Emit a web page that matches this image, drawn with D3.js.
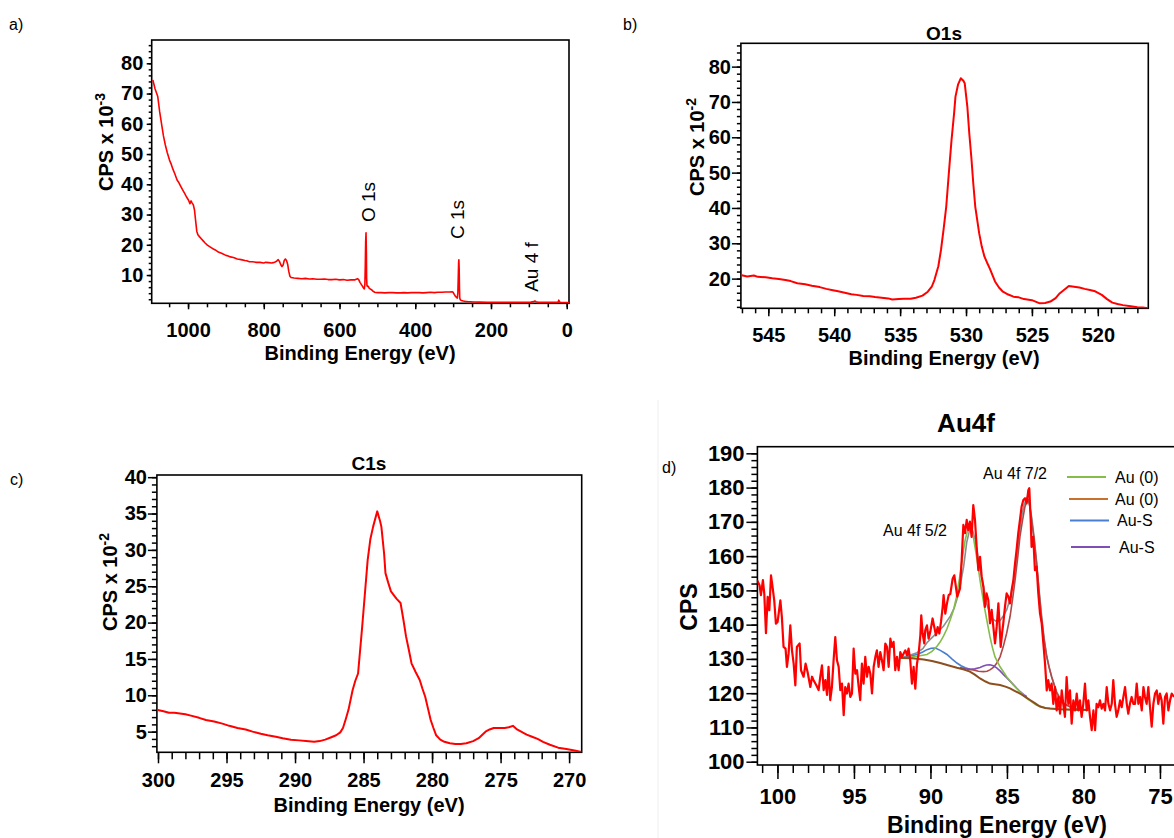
<!DOCTYPE html>
<html>
<head>
<meta charset="utf-8">
<script src="https://cdn.jsdelivr.net/npm/d3@7"></script>
<style>
  body { margin: 0; background: #fff; }
  text { font-family: "Liberation Sans", Arial, sans-serif; fill: #000; }
</style>
</head>
<body>
<div id="chart"></div>
<script>
// a) survey [eV, CPS x 1e-3]
const surveyData = [
  [1093,74.5],[1087,71.5],[1080,69],[1075,64],[1070,60],[1065,56],[1060,53],[1055,50.5],[1049,48],[1044,46.5],
  [1040,45],[1035,43.5],[1029,41.4],[1024,40.5],[1020,39.5],[1015,38.3],[1009,37],[1004,35.8],[999,34.8],[995,33.6],
  [992,34.5],[989,33.8],[986,33.2],[983,31.5],[980,28],[977,24.5],[974,23.3],[970,22.7],[965,22],[960,21.3],
  [955,20.6],[949,19.9],[943,19.4],[938,19],[933,18.6],[928,18.3],[920,17.6],[910,17.1],[900,16.5],[894,16.3],
  [888,16],[880,15.8],[870,15.3],[860,15.1],[850,14.8],[845,14.7],[838,14.4],[830,14.4],[820,14.2],[810,14.2],
  [800,14.0],[795,14.2],[787,14.1],[780,14.0],[775,14.1],[770,14.3],[766,14.6],[762,15.1],[759,14.6],[755,13.4],
  [752,12.8],[749,13.3],[746,14.8],[743,15.3],[740,14.8],[737,13.6],[734,11.2],[731,9.6],[728,9.2],[720,9.0],
  [710,8.9],[700,8.8],[690,8.9],[680,8.7],[670,8.8],[660,8.6],[650,8.6],[640,8.7],[630,8.5],[620,8.5],
  [610,8.6],[600,8.4],[590,8.5],[580,8.3],[570,8.4],[560,8.4],[556,8.6],[552,8.8],[549,8.4],[546,7.6],
  [543,7.0],[540,6.4],[537,5.8],[534.5,5.4],[533,7],[532,13],[531,21],[530,24],[529,17],[528.5,9],
  [527.5,6.5],[526,6.2],[524,6.3],[522,5.7],[519,5.4],[515,5.1],[511,4.6],[507,4.3],[500,4.2],[490,4.2],
  [480,4.1],[470,4.2],[460,4.2],[450,4.1],[440,4.1],[430,4.2],[420,4.1],[410,4.2],[400,4.2],[390,4.2],
  [380,4.1],[370,4.2],[360,4.3],[350,4.2],[340,4.3],[330,4.3],[320,4.4],[310,4.4],[303,4.5],[300,4.3],
  [297,3.6],[294,3.0],[291,2.6],[289,2.4],[287.5,4],[286.5,9],[285.5,14],[284.8,15],[284,12],[283.3,6],
  [282.5,2.4],[281,1.8],[278,1.6],[273,1.4],[268,1.3],[262,1.2],[255,1.15],[245,1.1],[230,1.05],[210,1.0],
  [190,1.0],[170,1.0],[150,1.0],[130,1.0],[110,1.0],[95,1.05],[87,1.2],[84,1.4],[81,1.2],[75,1.0],
  [60,1.0],[45,0.95],[30,0.95],[23,1.0],[21,1.7],[19,1.1],[15,0.9],[8,0.9],[0,0.9],[-6,0.85]
];

// b) O1s [eV, CPS x 1e-2]
const o1sData = [
  [547.1,21.0],[546.6,20.6],[546.1,20.9],[545.8,20.5],[545.2,20.4],[544.7,20.1],[544.2,19.9],[543.7,19.6],[543.3,19.3],[542.8,18.7],
  [542.2,18.4],[541.7,18.0],[541.1,17.6],[540.6,17.1],[540.1,16.7],[539.7,16.4],[539.2,16.0],[538.7,15.6],[538.3,15.4],[537.8,15.1],
  [537.3,15.0],[536.9,14.8],[536.4,14.6],[535.9,14.4],[535.6,14.1],[535.1,14.2],[534.7,14.3],[534.2,14.3],[533.8,14.6],[533.3,15.2],
  [532.9,16.3],[532.6,17.7],[532.4,19.6],[532.1,23.5],[531.9,28.1],[531.7,34.0],[531.5,40.4],[531.3,50.0],[531.1,59.2],[530.9,67.0],
  [530.8,71.5],[530.6,75.0],[530.4,76.7],[530.2,76.0],[530.1,75.3],[529.9,68.7],[529.75,61.0],[529.6,54.5],[529.45,47.0],[529.3,40.4],
  [529.0,32.8],[528.8,29.0],[528.6,26.2],[528.4,24.5],[528.2,22.9],[527.8,19.2],[527.5,17.5],[527.2,16.3],[526.8,15.5],[526.4,14.9],
  [526.0,14.7],[525.6,14.2],[525.0,13.9],[524.4,13.0],[524.0,13.1],[523.6,13.5],[523.2,14.5],[522.9,15.8],[522.5,17.0],[522.2,17.9],
  [521.8,17.7],[521.4,17.5],[521.0,17.1],[520.6,16.8],[520.2,16.4],[519.7,15.4],[519.3,14.2],[518.9,13.2],[518.5,12.8],[518.1,12.5],
  [517.5,12.2],[517.0,11.9],[516.6,11.8],[516.2,11.6]
];

// c) C1s [eV, CPS x 1e-2]
const c1sData = [
  [300.1,8.0],[299.6,7.8],[299.2,7.6],[298.8,7.6],[298.4,7.5],[298.0,7.4],[297.6,7.2],[297.0,6.9],[296.5,6.6],[295.9,6.4],
  [295.3,6.1],[294.8,5.8],[294.2,5.5],[293.6,5.3],[293.1,5.0],[292.5,4.7],[292.0,4.5],[291.4,4.3],[290.9,4.1],[290.3,3.9],
  [289.7,3.8],[289.2,3.7],[288.6,3.6],[288.2,3.7],[287.8,3.9],[287.4,4.2],[287.0,4.5],[286.7,4.9],[286.5,5.5],[286.3,6.7],
  [286.1,8.0],[285.8,10.7],[285.6,12.0],[285.4,13.0],[285.1,19.4],[284.9,24.0],[284.7,28.6],[284.5,31.5],[284.3,33.2],[284.0,35.3],
  [283.8,34.0],[283.7,33.2],[283.5,29.5],[283.4,26.8],[283.2,25.5],[283.0,24.3],[282.6,23.3],[282.3,22.7],[282.1,20.5],[281.9,18.1],
  [281.7,16.3],[281.5,14.4],[281.2,13.2],[280.9,12.1],[280.7,10.9],[280.5,9.8],[280.3,8.2],[280.1,6.6],[279.9,5.5],[279.7,4.5],
  [279.4,3.9],[279.1,3.6],[278.7,3.4],[278.3,3.3],[277.9,3.3],[277.5,3.4],[277.0,3.7],[276.6,4.1],[276.1,5.0],[275.8,5.3],
  [275.5,5.5],[275.1,5.5],[274.7,5.5],[274.4,5.6],[274.1,5.8],[273.8,5.3],[273.5,5.0],[273.1,4.6],[272.7,4.3],[272.3,4.0],
  [271.9,3.6],[271.4,3.2],[270.8,2.8],[270.2,2.6],[269.6,2.4],[269.1,2.2]
];

// d) Au4f raw counts [eV, CPS]
const au4fData = [
  [101.34,153.0],[101.17,151.5],[101.08,148.6],[100.95,153.0],[100.86,149.0],[100.75,137.5],[100.64,148.1],[100.53,144.2],[100.42,154.4],[100.32,151.0],
  [100.21,147.1],[100.10,140.3],[99.99,140.8],[99.81,147.1],[99.71,142.2],[99.60,133.5],[99.47,133.0],[99.38,127.7],[99.27,131.6],[99.16,139.8],
  [99.05,132.5],[98.94,128.6],[98.83,122.3],[98.73,133.5],[98.55,134.5],[98.46,126.7],[98.29,124.8],[98.16,128.6],[98.03,126.2],[97.85,121.8],
  [97.74,124.8],[97.64,123.8],[97.46,122.3],[97.31,120.9],[97.20,124.8],[97.09,128.1],[96.98,120.9],[96.87,123.8],[96.76,119.5],[96.66,127.7],
  [96.55,118.0],[96.44,121.8],[96.33,129.6],[96.22,136.4],[96.11,129.6],[96.00,127.7],[95.89,120.9],[95.78,122.8],[95.67,113.6],[95.57,121.8],
  [95.46,119.9],[95.35,122.8],[95.24,118.9],[95.13,119.9],[95.02,133.0],[94.91,125.7],[94.80,126.7],[94.69,121.8],[94.59,118.0],[94.48,128.6],
  [94.37,122.8],[94.26,130.6],[94.15,124.8],[94.04,127.7],[93.93,125.7],[93.82,119.9],[93.71,127.7],[93.60,130.6],[93.50,132.5],[93.39,127.7],
  [93.28,132.0],[93.17,129.6],[93.06,126.7],[92.95,134.5],[92.84,133.5],[92.73,127.7],[92.62,135.9],[92.52,133.5],[92.41,135.0],[92.30,126.7],
  [92.19,130.6],[92.08,126.7],[91.97,132.0],[91.86,130.6],[91.75,131.6],[91.64,132.5],[91.53,131.0],[91.43,133.0],[91.32,129.6],[91.21,122.8],
  [91.10,127.7],[90.99,121.3],[90.88,128.6],[90.77,131.6],[90.66,136.9],[90.60,142.7],[90.51,137.4],[90.40,134.5],[90.34,138.4],[90.23,139.8],
  [90.12,135.9],[90.01,137.9],[89.86,141.8],[89.75,139.3],[89.64,136.9],[89.53,139.3],[89.42,137.4],[89.31,140.8],[89.20,145.2],[89.14,148.6],
  [89.03,143.2],[88.92,146.2],[88.81,148.6],[88.70,149.0],[88.55,153.4],[88.44,154.4],[88.25,148.2],[88.07,150.5],[87.96,158.8],[87.85,169.1],
  [87.74,166.7],[87.63,170.6],[87.53,167.6],[87.42,170.1],[87.31,165.6],[87.20,174.9],[87.09,170.6],[86.98,162.7],[86.87,155.9],[86.76,159.8],
  [86.65,154.0],[86.54,151.0],[86.44,145.2],[86.33,149.1],[86.22,147.2],[86.11,140.4],[86.00,144.3],[85.89,139.4],[85.78,134.5],[85.67,139.4],
  [85.56,146.2],[85.50,141.3],[85.41,133.5],[85.32,137.4],[85.24,140.4],[85.13,145.2],[85.02,149.1],[84.91,148.2],[84.80,146.2],[84.69,150.1],
  [84.58,153.0],[84.47,157.9],[84.37,161.8],[84.26,166.7],[84.15,170.6],[84.04,174.5],[83.93,176.4],[83.82,176.9],[83.71,175.4],[83.60,179.3],
  [83.54,179.8],[83.45,170.6],[83.39,162.7],[83.28,165.6],[83.17,155.9],[83.06,156.9],[82.95,149.1],[82.84,143.3],[82.73,140.4],[82.62,134.5],
  [82.51,128.6],[82.40,120.8],[82.30,123.8],[82.19,120.8],[82.08,122.8],[81.97,116.9],[81.86,121.8],[81.75,115.0],[81.64,118.9],[81.53,114.0],
  [81.42,120.8],[81.32,116.9],[81.21,113.1],[81.10,124.7],[80.99,116.9],[80.88,120.8],[80.77,111.1],[80.66,117.9],[80.55,115.0],[80.44,119.9],
  [80.33,115.0],[80.23,117.9],[80.12,113.1],[80.01,116.9],[79.90,122.8],[79.79,115.0],[79.68,117.9],[79.57,113.1],[79.46,109.2],[79.35,115.0],
  [79.24,109.2],[79.14,116.9],[79.03,115.9],[78.92,117.9],[78.81,115.5],[78.70,116.9],[78.59,115.0],[78.48,121.8],[78.37,116.9],[78.26,115.0],
  [78.15,116.9],[78.05,123.8],[77.94,116.9],[77.83,113.1],[77.72,115.0],[77.61,117.9],[77.50,115.9],[77.39,118.9],[77.28,121.8],[77.17,116.9],
  [77.07,114.0],[76.96,116.9],[76.85,118.9],[76.74,116.9],[76.63,116.9],[76.52,122.8],[76.41,116.9],[76.30,118.9],[76.19,115.0],[76.08,121.8],
  [75.98,118.9],[75.87,116.9],[75.76,121.8],[75.65,115.9],[75.54,110.2],[75.43,116.9],[75.32,119.9],[75.21,120.8],[75.11,116.9],[75.00,119.9],
  [74.89,117.9],[74.78,111.1],[74.67,118.9],[74.56,119.9],[74.45,115.0],[74.34,117.9],[74.23,119.9],[74.08,118.9]
];

// d) fitted components [eV, CPS]
const fitBackground = [
  [91.97,130.3],[91.2,130.2],[90.44,129.8],[89.9,129.4],[89.36,128.8],[88.8,128.1],[88.27,127.4],[87.8,126.9],[87.42,126.3],[87.1,125.4],
  [86.76,124.3],[86.4,123.4],[86.11,122.8],[85.8,122.6],[85.45,122.4],[85.1,121.9],[84.80,121.4],[84.5,120.7],[84.15,119.9],[83.8,118.9],
  [83.49,118.0],[83.15,117.0],[82.84,116.1],[82.5,115.7],[82.19,115.5],[81.53,115.3],[80.6,115.2],[79.68,115.1]
];
const fitAu52 = [
  [91.97,130.3],[91.4,130.5],[90.88,130.8],[90.23,131.3],[89.9,132.2],[89.57,133.7],[89.36,135.0],[89.14,136.7],[88.92,138.8],[88.70,141.5],
  [88.5,144.2],[88.3,148.0],[88.1,153.5],[87.9,160.0],[87.74,164.5],[87.6,167.0],[87.42,168.6],[87.25,167.0],[87.09,162.7],[86.92,158.0],
  [86.76,153.0],[86.6,148.5],[86.44,144.3],[86.27,140.2],[86.11,136.5],[85.95,133.3],[85.78,130.6],[85.6,129.0],[85.45,127.7],[85.02,124.8],
  [84.58,122.4],[84.15,120.4],[83.71,118.5],[83.06,116.5],[82.40,115.6],[81.53,115.3],[80.6,115.2],[79.68,115.1]
];
const fitAuS52 = [
  [91.97,130.3],[91.4,130.7],[90.88,131.3],[90.5,132.0],[90.23,132.7],[89.95,133.1],[89.68,133.2],[89.36,132.5],[89.1,131.8],[88.92,131.3],
  [88.6,130.0],[88.27,128.8],[88.0,128.0],[87.72,127.4],[87.4,127.0]
];
const fitAuS72 = [
  [88.07,127.5],[87.75,127.2],[87.42,127.0],[87.1,127.1],[86.76,127.5],[86.54,127.9],[86.33,128.2],[86.11,128.3],[85.89,128.0],[85.67,127.4],
  [85.45,126.5],[85.24,125.5],[85.02,124.5],[84.80,123.5],[84.58,122.5],[84.37,121.5],[84.15,120.5],[83.9,119.6],[83.7,119.0]
];
const fitAu72 = [
  [87.6,127.0],[87.2,126.8],[86.87,126.4],[86.54,126.3],[86.3,126.4],[86.11,126.8],[85.89,127.5],[85.67,128.7],[85.45,130.6],[85.24,133.6],
  [85.02,137.5],[84.80,142.3],[84.63,147.5],[84.47,153.0],[84.3,159.5],[84.15,165.7],[83.98,170.5],[83.82,174.5],[83.71,175.8],[83.60,176.4],
  [83.5,174.5],[83.39,170.6],[83.22,164.5],[83.06,158.0],[82.9,149.5],[82.73,141.4],[82.57,135.5],[82.40,130.7],[82.24,127.5],[82.08,124.8],
  [81.9,122.2],[81.75,120.0],[81.5,118.2],[81.32,117.1],[80.95,116.2],[80.66,115.6],[80.2,115.3],[79.68,115.1]
];
const fitEnvelope = [
  [91.97,130.3],[91.4,131.0],[90.88,131.8],[90.5,133.0],[90.23,134.7],[89.9,136.2],[89.57,137.6],[89.14,139.6],[88.70,142.5],[88.45,144.8],
  [88.27,147.4],[88.05,151.5],[87.83,157.0],[87.63,164.0],[87.42,168.0],[87.25,167.5],[87.09,165.0],[86.92,160.5],[86.76,156.0],[86.54,151.5],
  [86.33,146.2],[86.11,143.0],[85.89,141.5],[85.67,140.9],[85.45,141.2],[85.24,142.5],[85.02,144.3],[84.80,147.5],[84.58,152.5],[84.37,160.0],
  [84.2,166.5],[84.04,171.5],[83.88,175.0],[83.71,176.9],[83.55,175.5],[83.39,171.5],[83.22,165.5],[83.06,158.0],[82.9,150.0],[82.73,142.4],
  [82.57,136.0],[82.40,130.7],[82.24,127.5],[82.08,124.8],[81.9,122.4],[81.75,120.4],[81.5,118.4],[81.32,117.1],[80.95,116.2],[80.66,115.6],
  [80.2,115.3],[79.68,115.1]
];

// ticks
const surveyXTicks = [0, 200, 400, 600, 800, 1000];
const surveyYTicks = [10, 20, 30, 40, 50, 60, 70, 80];
const o1sXTicks = [520, 525, 530, 535, 540, 545];
const o1sYTicks = [20, 30, 40, 50, 60, 70, 80];
const c1sXTicks = [270, 275, 280, 285, 290, 295, 300];
const c1sYTicks = [5, 10, 15, 20, 25, 30, 35, 40];
const au4fXTicks = [75, 80, 85, 90, 95, 100];
const au4fYTicks = [100, 110, 120, 130, 140, 150, 160, 170, 180, 190];

const legendLabels = ['Au (0)', 'Au (0)', 'Au-S', 'Au-S'];
const legendColors = ['#86bc4a', '#c8702f', '#4a7fd0', '#7e4fb5'];

const svg = d3.select('#chart')
  .append('svg')
  .attr('width', 1174)
  .attr('height', 838);

function range(a, b, s) { return d3.range(a, b + s / 2, s); }

function drawPanel(p) {
  const x = d3.scaleLinear().domain(p.xDomain).range([p.left, p.right]);
  const y = d3.scaleLinear().domain(p.yDomain).range([p.bottom, p.top]);
  const g = svg.append('g');

  const styleAxis = (a, fs) => {
    a.select('.domain').remove();
    a.selectAll('line').attr('stroke', '#000').attr('stroke-width', 1.5);
    a.selectAll('text')
      .style('font-size', fs + 'px')
      .style('font-weight', 'bold')
      .attr('fill', '#000');
  };

  // minor ticks
  g.append('g')
    .attr('transform', `translate(0,${p.bottom})`)
    .call(d3.axisBottom(x).tickValues(p.xMinor).tickSize(p.xMinorLen).tickFormat(''))
    .call(a => styleAxis(a, p.tickFont));
  g.append('g')
    .attr('transform', `translate(${p.left},0)`)
    .call(d3.axisLeft(y).tickValues(p.yMinor).tickSize(p.yMinorLen).tickFormat(''))
    .call(a => styleAxis(a, p.tickFont));

  // major ticks + labels
  g.append('g')
    .attr('transform', `translate(0,${p.bottom})`)
    .call(d3.axisBottom(x).tickValues(p.xTicks).tickSize(p.xMajorLen)
      .tickPadding(p.xLabelOff - p.xMajorLen).tickFormat(d3.format('d')))
    .call(a => styleAxis(a, p.tickFont));
  g.append('g')
    .attr('transform', `translate(${p.left},0)`)
    .call(d3.axisLeft(y).tickValues(p.yTicks).tickSize(p.yMajorLen)
      .tickPadding(p.yLabelOff - p.yMajorLen).tickFormat(d3.format('d')))
    .call(a => styleAxis(a, p.tickFont));

  // frame
  g.append('rect')
    .attr('x', p.left).attr('y', p.top)
    .attr('width', p.right - p.left).attr('height', p.bottom - p.top)
    .attr('fill', 'none').attr('stroke', '#000').attr('stroke-width', 1.6);

  const clipId = 'clip-' + p.id;
  g.append('clipPath').attr('id', clipId)
    .append('rect')
    .attr('x', p.left).attr('y', p.top)
    .attr('width', p.right - p.left).attr('height', p.bottom - p.top);

  const plot = g.append('g').attr('clip-path', `url(#${clipId})`);
  const line = d3.line().x(d => x(d[0])).y(d => y(d[1]));

  (p.fits || []).forEach(f => {
    plot.append('path')
      .datum(f.data)
      .attr('d', line)
      .attr('fill', 'none')
      .attr('stroke', f.color)
      .attr('stroke-width', f.width || 1.6);
  });

  plot.append('path')
    .datum(p.data)
    .attr('d', line)
    .attr('fill', 'none')
    .attr('stroke', '#ff0000')
    .attr('stroke-width', p.lineWidth)
    .attr('stroke-linejoin', 'round');

  // panel letter
  g.append('text')
    .attr('x', p.letter[0]).attr('y', p.letter[1])
    .style('font-size', '16px')
    .text(p.id + ')');

  // title
  if (p.title) {
    g.append('text')
      .attr('x', p.title[0]).attr('y', p.title[1])
      .attr('text-anchor', 'middle')
      .style('font-size', p.title[3] + 'px')
      .style('font-weight', 'bold')
      .text(p.title[2]);
  }

  // x label
  g.append('text')
    .attr('x', p.xLabel[0]).attr('y', p.xLabel[1])
    .attr('text-anchor', 'middle')
    .style('font-size', p.labelFont + 'px')
    .style('font-weight', 'bold')
    .text('Binding Energy (eV)');

  // y label (rotated, optional superscript)
  const yl = g.append('text')
    .attr('transform', `translate(${p.yLabel[0]},${p.yLabel[1]}) rotate(-90)`)
    .attr('text-anchor', 'middle')
    .style('font-size', p.labelFont + 'px')
    .style('font-weight', 'bold');
  yl.append('tspan').text(p.yLabel[2]);
  if (p.yLabel[3]) {
    yl.append('tspan').attr('dy', -8).style('font-size', '14px').text(p.yLabel[3]);
  }

  return { g, x, y };
}

// a) survey
const pa = drawPanel({
  id: 'a', data: surveyData, lineWidth: 1.6,
  left: 151.7, right: 569, top: 40, bottom: 303.3,
  xDomain: [1096, -6], yDomain: [0.66, 87.7],
  xTicks: surveyXTicks, yTicks: surveyYTicks,
  xMinor: range(0, 1050, 50), yMinor: range(2, 86, 2),
  xMajorLen: 6, xMinorLen: 4, yMajorLen: 5, yMinorLen: 3,
  xLabelOff: 20, yLabelOff: 8.4, tickFont: 20, labelFont: 20,
  letter: [9, 30], xLabel: [360, 360], yLabel: [113, 142, 'CPS x 10', '-3']
});
[['O 1s', 375, 202], ['C 1s', 464, 219.5], ['Au 4 f', 538, 267]].forEach(a => {
  pa.g.append('text')
    .attr('transform', `translate(${a[1]},${a[2]}) rotate(-90)`)
    .attr('text-anchor', 'middle')
    .style('font-size', '19px')
    .text(a[0]);
});

// b) O1s
drawPanel({
  id: 'b', data: o1sData, lineWidth: 2,
  left: 740.9, right: 1148.3, top: 43.3, bottom: 308.3,
  xDomain: [547.08, 516.17], yDomain: [11.6, 86.6],
  xTicks: o1sXTicks, yTicks: o1sYTicks,
  xMinor: range(517, 547, 1), yMinor: range(12, 86, 2),
  xMajorLen: 8, xMinorLen: 5, yMajorLen: 9, yMinorLen: 4,
  xLabelOff: 19.7, yLabelOff: 10, tickFont: 20, labelFont: 20,
  letter: [623, 30], title: [944, 40, 'O1s', 19],
  xLabel: [944, 365], yLabel: [704, 147, 'CPS x 10', '-2']
});

// c) C1s
drawPanel({
  id: 'c', data: c1sData, lineWidth: 2,
  left: 156.9, right: 581.7, top: 475, bottom: 752.3,
  xDomain: [300.08, 269.08], yDomain: [2.16, 40.3],
  xTicks: c1sXTicks, yTicks: c1sYTicks,
  xMinor: range(270, 300, 1), yMinor: range(3, 40, 1),
  xMajorLen: 11, xMinorLen: 7, yMajorLen: 9, yMinorLen: 5,
  xLabelOff: 20.5, yLabelOff: 10, tickFont: 20, labelFont: 20,
  letter: [10, 485], title: [369, 470, 'C1s', 19],
  xLabel: [369, 812], yLabel: [117, 582, 'CPS x 10', '-2']
});

// faint border of the pasted d) image
svg.append('line')
  .attr('x1', 658).attr('x2', 658).attr('y1', 400).attr('y2', 838)
  .attr('stroke', '#efefef').attr('stroke-width', 1);

// d) Au4f
const pd = drawPanel({
  id: 'd', data: au4fData, lineWidth: 2.2,
  left: 757.4, right: 1180, top: 446.7, bottom: 765,
  xDomain: [101.31, 73.69], yDomain: [99.04, 191.93],
  xTicks: au4fXTicks, yTicks: au4fYTicks,
  xMinor: range(74, 101, 1), yMinor: range(100, 190, 2),
  xMajorLen: 14, xMinorLen: 8, yMajorLen: 11, yMinorLen: 6,
  xLabelOff: 23.8, yLabelOff: 12.8, tickFont: 22, labelFont: 23,
  letter: [662, 473], title: [966, 432, 'Au4f', 26],
  xLabel: [997, 833], yLabel: [697, 607, 'CPS'],
  fits: [
    { data: fitEnvelope, color: '#8e8e8e' },
    { data: fitAu72, color: '#b04848' },
    { data: fitAuS52, color: '#4a7fd0' },
    { data: fitAuS72, color: '#7e4fb5' },
    { data: fitAu52, color: '#86bc4a' },
    { data: fitBackground, color: '#8c4f1f', width: 2 }
  ]
});

[['Au 4f 7/2', 1015, 479], ['Au 4f 5/2', 915, 536]].forEach(a => {
  pd.g.append('text')
    .attr('x', a[1]).attr('y', a[2])
    .attr('text-anchor', 'middle')
    .style('font-size', '16px')
    .text(a[0]);
});

// legend
const legendRows = [[1067, 1106, 477, 1115], [1069, 1108, 499, 1115], [1070, 1109, 520.5, 1117], [1071, 1110, 547, 1119]];
const legend = pd.g.selectAll('.legend')
  .data(legendLabels)
  .enter()
  .append('g')
  .attr('class', 'legend');
legend.append('line')
  .attr('x1', (d, i) => legendRows[i][0])
  .attr('x2', (d, i) => legendRows[i][1])
  .attr('y1', (d, i) => legendRows[i][2])
  .attr('y2', (d, i) => legendRows[i][2])
  .attr('stroke', (d, i) => legendColors[i])
  .attr('stroke-width', 2);
legend.append('text')
  .attr('x', (d, i) => legendRows[i][3])
  .attr('y', (d, i) => legendRows[i][2])
  .attr('dy', '.35em')
  .style('font-size', '16px')
  .text(d => d);
</script>
</body>
</html>
